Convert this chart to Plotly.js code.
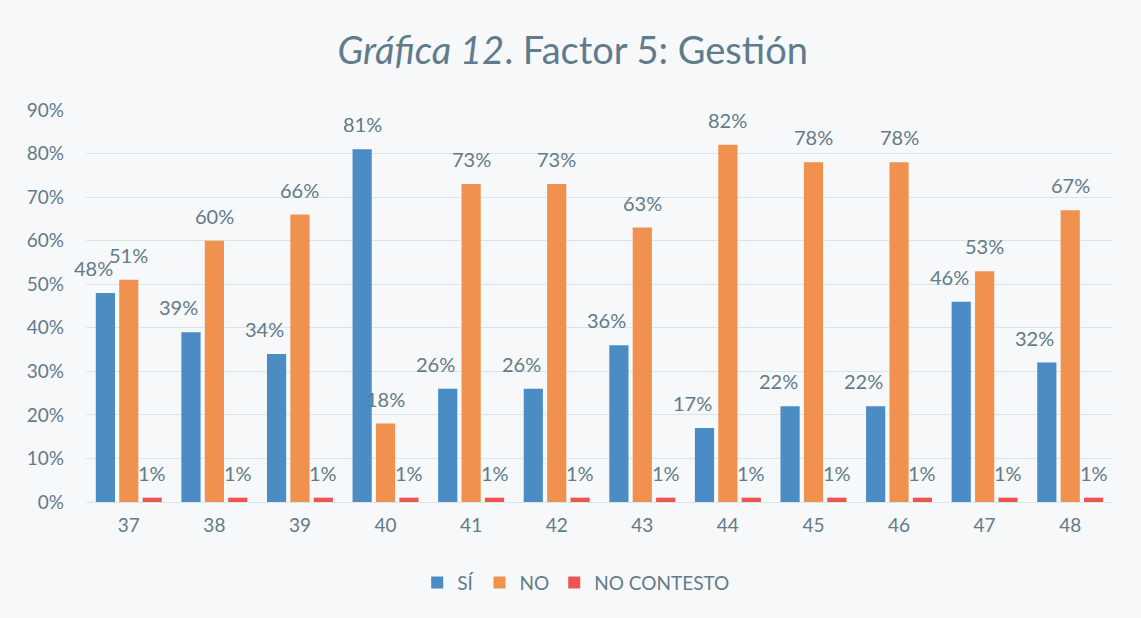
<!DOCTYPE html>
<html>
<head>
<meta charset="utf-8">
<script src="https://cdn.plot.ly/plotly-3.0.1.min.js"></script>
<style>html,body{margin:0;padding:0;background:#f7f8fa;}#chart{width:1141px;height:618px;}</style>
</head>
<body>
<div id="chart"></div>
<script>
const categories = ['37','38','39','40','41','42','43','44','45','46','47','48'];
const si = [0.48, 0.39, 0.34, 0.81, 0.26, 0.26, 0.36, 0.17, 0.22, 0.22, 0.46, 0.32];
const no = [0.51, 0.60, 0.66, 0.18, 0.73, 0.73, 0.63, 0.82, 0.78, 0.78, 0.53, 0.67];
const noContesto = [0.01, 0.01, 0.01, 0.01, 0.01, 0.01, 0.01, 0.01, 0.01, 0.01, 0.01, 0.01];
const seriesNames = ['SÍ', 'NO', 'NO CONTESTO'];

const textColor = '#627b89';
const fontFam = 'Lato, "Open Sans", sans-serif';
const BARGAP = 0.18, GROUPGAP = 0.18;

function bar(name, vals, color) {
  return {
    type: 'bar', name: name, x: categories, y: vals,
    marker: {color: color},
    hoverinfo: 'skip'
  };
}

const data = [
  bar(seriesNames[0], si, '#4a8cc3'),
  bar(seriesNames[1], no, '#f0914f'),
  bar(seriesNames[2], noContesto, '#ee5550')
];

// data labels as annotations, offset above each bar like the Excel original
const plotW = 1141 - 86 - 28;
const catW = plotW / categories.length;
const slot = catW * (1 - BARGAP) / 3;
const annotations = [];
const series = [si, no, noContesto];
series.forEach((vals, s) => {
  vals.forEach((v, i) => {
    let dx = (s - 1) * slot;
    if (s === 0 && si[i] < no[i]) dx -= 12;
    annotations.push({
      x: i, y: v, xref: 'x', yref: 'y',
      text: Math.round(v * 100) + '%', showarrow: false,
      xshift: dx, yshift: 25, yanchor: 'middle', xanchor: 'center',
      font: {size: 20, color: textColor, family: fontFam}
    });
  });
});

const layout = {
  width: 1141, height: 618,
  paper_bgcolor: '#f7f8fa', plot_bgcolor: '#f7f8fa',
  margin: {l: 86, r: 28, t: 110, b: 116},
  font: {family: fontFam, color: textColor, size: 19},
  title: {
    text: '<i>Gráfica 12</i>. Factor 5: Gestión',
    font: {size: 38, color: '#5f7b8c', family: fontFam},
    x: 0.502, xref: 'container', xanchor: 'center',
    y: 0.918, yref: 'container', yanchor: 'middle'
  },
  barmode: 'group', bargap: BARGAP, bargroupgap: GROUPGAP,
  xaxis: {
    type: 'category', categoryarray: categories, categoryorder: 'array',
    range: [-0.5, categories.length - 0.5],
    showgrid: false, zeroline: false, showline: false,
    ticks: '', tickfont: {size: 19, color: textColor}, ticklabelstandoff: 10
  },
  yaxis: {
    range: [0, 0.9], dtick: 0.1, tickformat: '.0%',
    showgrid: true, gridcolor: '#d6e6e9', gridwidth: 1,
    zeroline: true, zerolinecolor: '#d6e6e9', zerolinewidth: 1,
    showline: false, ticks: '', tickfont: {size: 19, color: textColor},
    ticklabelstandoff: 21
  },
  annotations: annotations,
  showlegend: true,
  legend: {
    orientation: 'h', xref: 'container', x: 0.505, xanchor: 'center',
    yref: 'container', y: 0.057, yanchor: 'middle',
    font: {size: 19, color: textColor}, itemwidth: 30, tracegroupgap: 0,
    bgcolor: 'rgba(0,0,0,0)'
  }
};

Plotly.newPlot('chart', data, layout, {displayModeBar: false, staticPlot: true});
</script>
</body>
</html>
